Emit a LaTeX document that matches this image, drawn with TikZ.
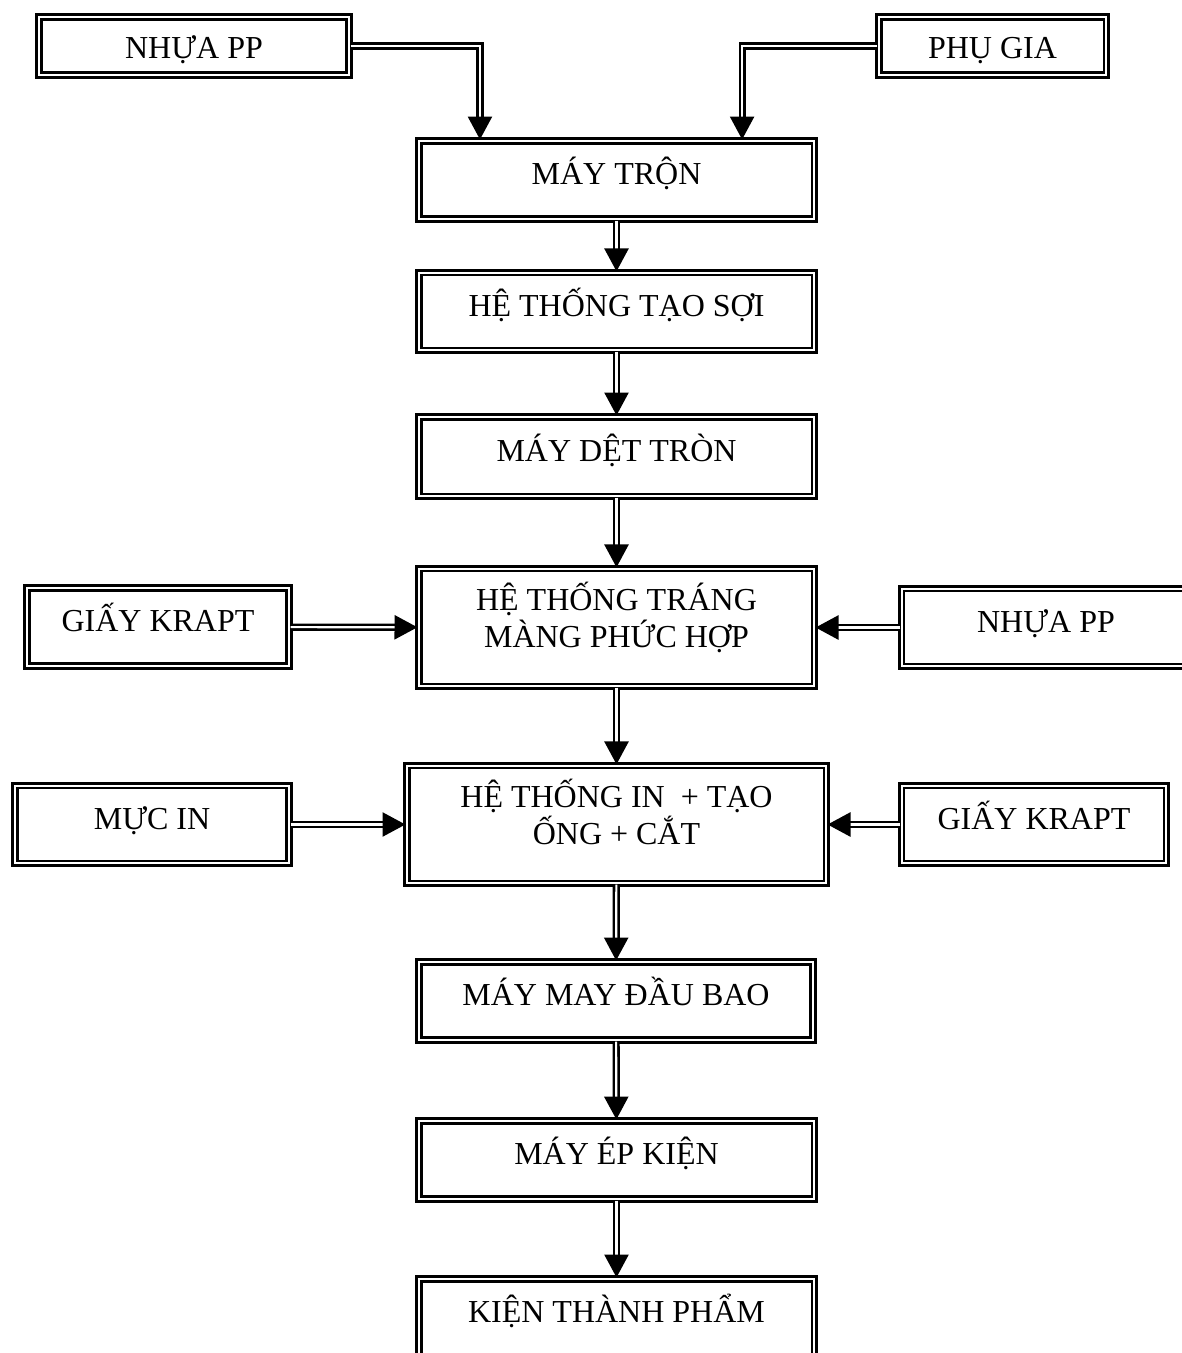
\documentclass[tikz,border=0pt]{standalone}
\usepackage{fontspec}
\setmainfont{Liberation Serif}
\usetikzlibrary{arrows.meta}

\tikzset{
    stage/.style={draw, double, line width=1pt, double distance=0.8pt,
        inner sep=0pt, minimum width=148.3pt, minimum height=29.4pt,
        text height=9pt, text depth=5.5pt,
        font=\fontsize{12}{13.9}\selectfont},
    twoline/.style={stage, align=center, minimum height=44.1pt,
        text height=20pt, text depth=5pt},
    flow/.style={double, line width=0.95pt, double distance=0.8pt,
        -{Triangle[length=8.6pt,width=9pt]}}
}

\begin{document}
\begin{tikzpicture}[x=0.375pt, y=-0.375pt]
    \clip (0,0) rectangle (1182,1353);

    % Raw materials
    \node[stage, minimum width=116.4pt, minimum height=21.9pt, text depth=0pt] (nhua1) at (194,46) {NHỰA PP};
    \node[stage, minimum width=85.3pt, minimum height=21.9pt, text depth=0pt] (phugia) at (992.5,46) {PHỤ GIA};

    % Main line
    \node[stage] (tron) at (616.5,180) {MÁY TRỘN};
    \node[stage, minimum height=29.1pt] (taosoi) at (616.5,311.5) {HỆ THỐNG TẠO SỢI};
    \node[stage, minimum height=29.8pt] (det) at (616.5,456.5) {MÁY DỆT TRÒN};
    \node[twoline] (trang) at (616.5,627.5) {HỆ THỐNG TRÁNG\\MÀNG PHỨC HỢP};
    \node[twoline, minimum width=157.3pt] (inong) at (616.5,824.5) {HỆ THỐNG IN\ \ + TẠO\\ỐNG + CẮT};
    \node[stage, minimum width=147.9pt] (may) at (616,1001) {MÁY MAY ĐẦU BAO};
    \node[stage] (ep) at (616.5,1160) {MÁY ÉP KIỆN};
    \node[stage] (kien) at (616.5,1318) {KIỆN THÀNH PHẨM};

    % Side inputs
    \node[stage, minimum width=98.4pt] (giay1) at (158,627) {GIẤY KRAPT};
    \node[stage, minimum width=108.2pt, minimum height=29.1pt] (nhua2) at (1046,627.5) {NHỰA PP};
    \node[stage, minimum width=102.9pt, minimum height=29.1pt] (mucin) at (152,824.5) {MỰC IN};
    \node[stage, minimum width=99.2pt, minimum height=29.1pt] (giay2) at (1034,824.5) {GIẤY KRAPT};

    % Flow
    \draw[flow] (nhua1) -| ([xshift=-51.2pt]tron.north);
    \draw[flow] (phugia) -| ([xshift=47.1pt]tron.north);
    \draw[flow] (tron) -- (taosoi);
    \draw[flow] (taosoi) -- (det);
    \draw[flow] (det) -- (trang);
    \draw[flow] (giay1) -- (trang);
    \draw[flow] (nhua2) -- (trang);
    \draw[flow] (trang) -- (inong);
    \draw[flow] (mucin) -- (inong);
    \draw[flow] (giay2) -- (inong);
    \draw[flow] (inong) -- (may);
    \draw[flow] (may) -- (ep);
    \draw[flow] (ep) -- (kien);
\end{tikzpicture}
\end{document}
